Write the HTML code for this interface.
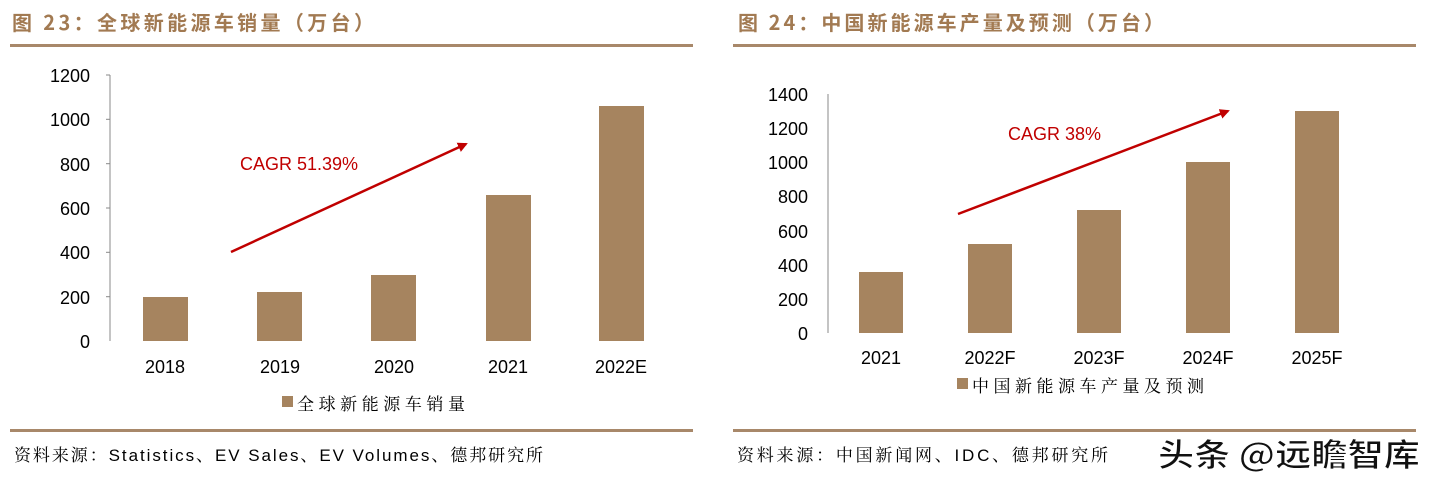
<!DOCTYPE html>
<html><head><meta charset="utf-8"><style>
html,body{margin:0;padding:0;background:#fff;}
svg{display:block;}
text{font-family:"Liberation Sans","Noto Sans CJK SC",sans-serif;}
.t{font-family:"Noto Sans CJK SC",sans-serif;font-weight:bold;fill:#a27a52;font-size:20px;}
.y{font-size:18px;fill:#000;text-anchor:end;}
.x{font-size:18px;fill:#000;text-anchor:middle;}
.s{font-family:"Liberation Sans","Noto Serif CJK SC",serif;font-size:17px;fill:#000;}
</style></head><body>
<svg width="1436" height="483" viewBox="0 0 1436 483">
<defs><marker id="ah" markerWidth="10" markerHeight="10" refX="8" refY="5" orient="auto" markerUnits="userSpaceOnUse"><path d="M0,0 L10,5 L0,10 z" fill="#c00000"/></marker></defs>
<!-- left -->
<text class="t" x="12" y="30" textLength="362" lengthAdjust="spacing">图 23：全球新能源车销量（万台）</text>
<rect x="10" y="44" width="683" height="3" fill="#a8886a"/>
<line x1="110" y1="75" x2="110" y2="341" stroke="#888"/>
<g stroke="#888"><line x1="106" y1="75" x2="110" y2="75"/><line x1="106" y1="119.3" x2="110" y2="119.3"/><line x1="106" y1="163.7" x2="110" y2="163.7"/><line x1="106" y1="208" x2="110" y2="208"/><line x1="106" y1="252.3" x2="110" y2="252.3"/><line x1="106" y1="296.7" x2="110" y2="296.7"/></g>
<g class="y"><text x="90" y="82">1200</text><text x="90" y="126">1000</text><text x="90" y="171">800</text><text x="90" y="215">600</text><text x="90" y="259">400</text><text x="90" y="304">200</text><text x="90" y="348">0</text></g>
<g fill="#a6845f"><rect x="143" y="297" width="45" height="44"/><rect x="257" y="292" width="45" height="49"/><rect x="371" y="275" width="45" height="66"/><rect x="486" y="195" width="45" height="146"/><rect x="599" y="106" width="45" height="235"/></g>
<g class="x"><text x="165" y="373">2018</text><text x="280" y="373">2019</text><text x="394" y="373">2020</text><text x="508" y="373">2021</text><text x="621" y="373">2022E</text></g>
<line x1="231" y1="252" x2="466" y2="144" stroke="#c00000" stroke-width="2.5" marker-end="url(#ah)"/>
<text x="240" y="170" font-size="18" fill="#c00000">CAGR 51.39%</text>
<rect x="282" y="396" width="11" height="11" fill="#a6845f"/>
<text x="297" y="410" class="s" textLength="168" lengthAdjust="spacing">全球新能源车销量</text>
<rect x="10" y="429" width="683" height="3" fill="#a8886a"/>
<text class="s" x="14" y="461" textLength="529" lengthAdjust="spacing">资料来源：Statistics、EV Sales、EV Volumes、德邦研究所</text>
<!-- right -->
<text class="t" x="738" y="30" textLength="426" lengthAdjust="spacing">图 24：中国新能源车产量及预测（万台）</text>
<rect x="733" y="44" width="683" height="3" fill="#a8886a"/>
<line x1="828" y1="94" x2="828" y2="333" stroke="#888"/>
<g class="y"><text x="808" y="101">1400</text><text x="808" y="135">1200</text><text x="808" y="169">1000</text><text x="808" y="203">800</text><text x="808" y="238">600</text><text x="808" y="272">400</text><text x="808" y="306">200</text><text x="808" y="340">0</text></g>
<g fill="#a6845f"><rect x="859" y="272" width="44" height="61"/><rect x="968" y="244" width="44" height="89"/><rect x="1077" y="210" width="44" height="123"/><rect x="1186" y="162" width="44" height="171"/><rect x="1295" y="111" width="44" height="222"/></g>
<g class="x"><text x="881" y="364">2021</text><text x="990" y="364">2022F</text><text x="1099" y="364">2023F</text><text x="1208" y="364">2024F</text><text x="1317" y="364">2025F</text></g>
<line x1="958" y1="214" x2="1228" y2="111" stroke="#c00000" stroke-width="2.5" marker-end="url(#ah)"/>
<text x="1008" y="140" font-size="18" fill="#c00000">CAGR 38%</text>
<rect x="957" y="378" width="11" height="11" fill="#a6845f"/>
<text x="972" y="392" class="s" textLength="232" lengthAdjust="spacing">中国新能源车产量及预测</text>
<rect x="733" y="429" width="683" height="3" fill="#a8886a"/>
<text class="s" x="737" y="461" textLength="371" lengthAdjust="spacing">资料来源：中国新闻网、IDC、德邦研究所</text>
<text x="1158" y="466" font-size="32" font-weight="bold" fill="#111" stroke="#fff" stroke-width="1" textLength="262" lengthAdjust="spacingAndGlyphs" style="font-family:'Noto Sans CJK SC',sans-serif">头条 @远瞻智库</text>
</svg>
</body></html>
